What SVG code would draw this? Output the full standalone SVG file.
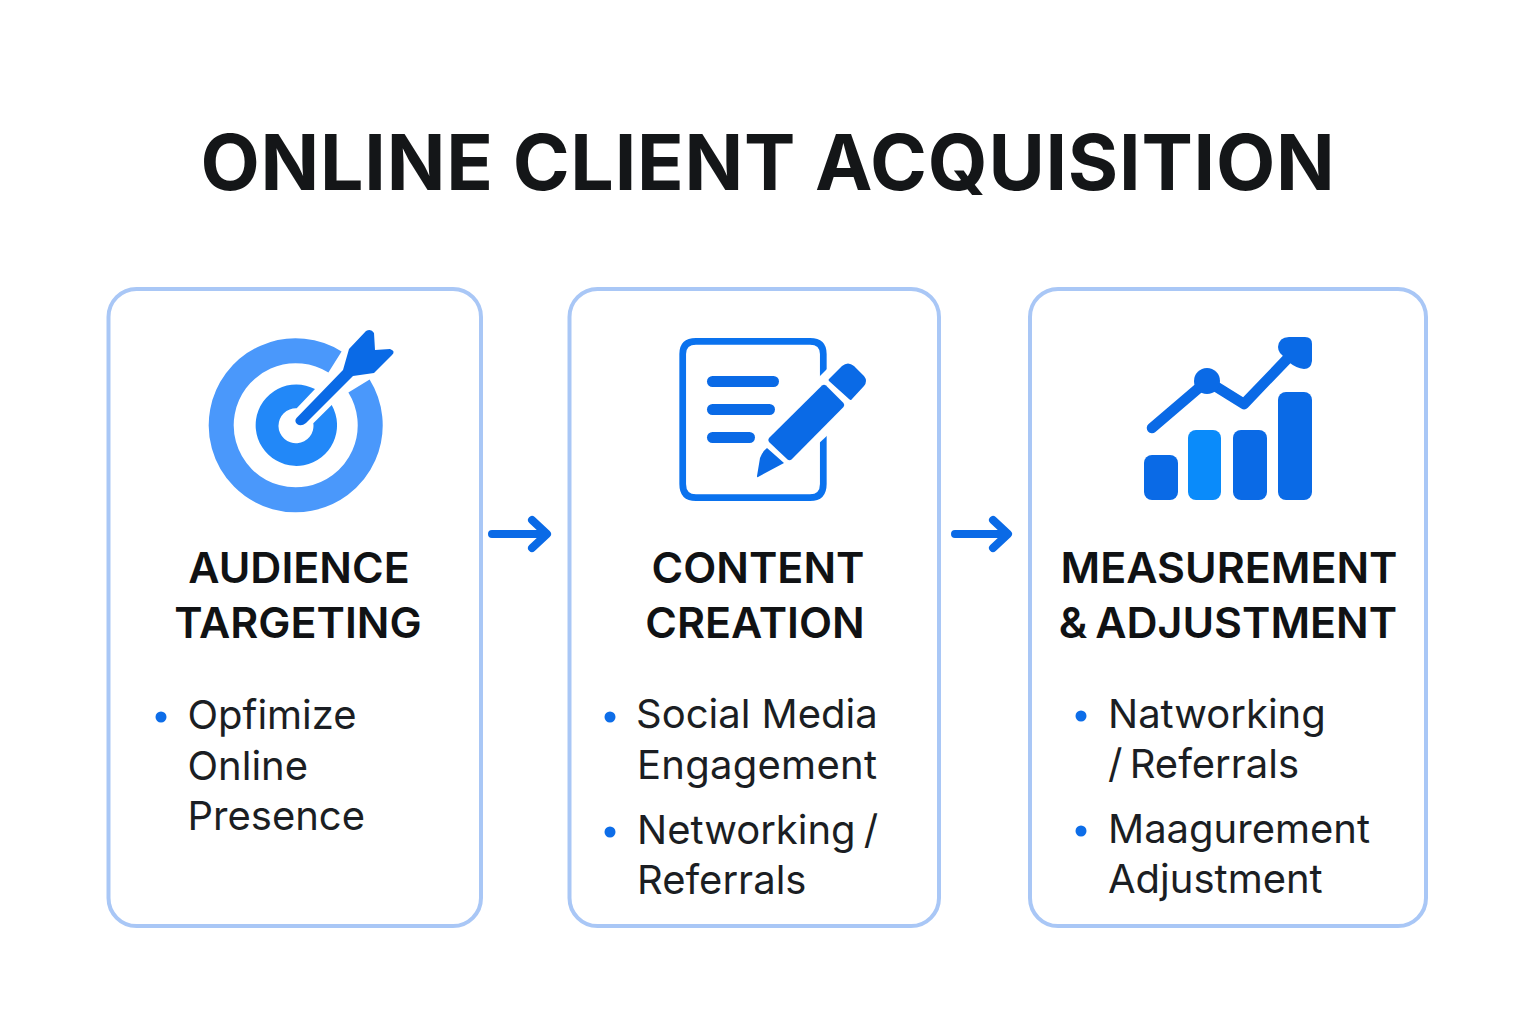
<svg xmlns="http://www.w3.org/2000/svg" width="1536" height="1024" viewBox="0 0 1536 1024">
<style>
text{font-family:"Inter","Liberation Sans",sans-serif}
.title{font-size:77px;font-weight:650;fill:#141618;letter-spacing:.75px}
.head{font-size:43px;font-weight:600;fill:#101214}
.body{font-size:40px;font-weight:400;fill:#1b1e23}
.card{fill:#fff;stroke:#a9c7f6;stroke-width:4}
.dot{fill:#0d6de8}
.ico{fill:#0a6ae6}
.conn{fill:none;stroke:#0a6ae6;stroke-width:8;stroke-linecap:round;stroke-linejoin:round}
</style>
<rect width="1536" height="1024" fill="#fff"/>
<text id="title" class="title" x="768" y="189.500" text-anchor="middle">ONLINE CLIENT ACQUISITION</text>
<g id="connectors">
<path class="conn" d="M492,534H546M532,520L547,534L532,548"/>
<path class="conn" d="M955,534H1007M993,520L1008,534L993,548"/>
</g>
<g id="node-audience">
<rect class="card" x="108.500" y="289" width="372.500" height="637" rx="28"/>
<path d="M335,362A74.500 74.500 0 1 0 359,386" fill="none" stroke="#4a98fb" stroke-width="25"/>
<path d="M315,389A40.700 40.700 0 1 0 331.700,405L313.300,423.300A17.500 17.500 0 1 1 296.700,408.300Z" fill="#2288f8"/>
<path class="ico" d="M296.500,418L343,370L349,349L366,331Q371,328 374,333L375,350L390,349Q396,351 392,355L374,373L353,376L306,423Q301,427 297,424Q294,421 296.500,418Z"/>
<text class="head" x="299" y="583" text-anchor="middle">AUDIENCE</text>
<text class="head" x="298" y="638" text-anchor="middle">TARGETING</text>
<circle class="dot" cx="161" cy="717" r="5.500"/>
<text class="body" x="187.500" y="729">Opfimize</text>
<text class="body" x="187.500" y="780">Online</text>
<text class="body" x="187.500" y="830">Presence</text>
</g>
<g id="node-content">
<rect class="card" x="569.500" y="289" width="369.500" height="637" rx="28"/>
<path d="M823.300,385V354Q823.300,341.300 810,341.300H696Q682.700,341.300 682.700,354V484Q682.700,497.700 696,497.700H810Q823.300,497.700 823.300,484V430" fill="none" stroke="#0a72ee" stroke-width="6.700"/>
<path d="M815,381L831,365V432L815,447Z" fill="#fff"/>
<rect class="ico" x="707" y="376" width="72" height="11" rx="5.500"/>
<rect class="ico" x="707" y="404" width="68" height="11" rx="5.500"/>
<rect class="ico" x="707" y="432" width="48" height="11" rx="5.500"/>
<path class="ico" d="M829,379L842,366Q848,361 854,366L864,376Q868,381 864,386L852,399Q851,401 849,399L829,381Q828,380 829,379Z"/>
<path class="ico" d="M822,385.500Q824,384 826,385.500L843.500,403Q845,405 843.500,407L791.500,459.500Q789.500,461 787.500,459.500L769,442Q767.500,440 769,438Z"/>
<path class="ico" d="M767,448L784,463L758,477Q757,478 757,476L760,458Q762,452 767,448Z"/>
<text class="head" x="758" y="583" text-anchor="middle">CONTENT</text>
<text class="head" x="755" y="638" text-anchor="middle">CREATION</text>
<circle class="dot" cx="610" cy="717" r="5.500"/>
<text class="body" x="636" y="728">Social Media</text>
<text class="body" x="637" y="779" textLength="240">Engagement</text>
<circle class="dot" cx="610" cy="832" r="5.500"/>
<text class="body" x="637" y="844" word-spacing="-3">Networking /</text>
<text class="body" x="637" y="894">Referrals</text>
</g>
<g id="node-measurement">
<rect class="card" x="1030" y="289" width="396" height="637" rx="28"/>
<rect class="ico" x="1144" y="455" width="34" height="45" rx="8"/>
<rect x="1188" y="430" width="33" height="70" rx="8" fill="#0a8bfa"/>
<rect class="ico" x="1233" y="430" width="34" height="70" rx="8"/>
<rect class="ico" x="1278" y="392" width="34" height="108" rx="8"/>
<path d="M1152,428L1207,381L1244,404L1290,356" fill="none" stroke="#0a6ae6" stroke-width="10.500" stroke-linecap="round" stroke-linejoin="round"/>
<circle class="ico" cx="1207" cy="381" r="13"/>
<path class="ico" d="M1278,347Q1279,337 1289,337H1305Q1312,337 1312,344V361Q1311,369 1304,369Q1296,368 1290,363L1280,353Q1278,350 1278,347Z"/>
<text class="head" x="1229" y="583" text-anchor="middle">MEASUREMENT</text>
<text class="head" x="1228" y="638" text-anchor="middle" word-spacing="-3">&amp; ADJUSTMENT</text>
<circle class="dot" cx="1081" cy="716" r="5.500"/>
<text class="body" x="1108" y="728">Natworking</text>
<text class="body" x="1108" y="778" word-spacing="-4">/ Referrals</text>
<circle class="dot" cx="1081" cy="831" r="5.500"/>
<text class="body" x="1108" y="843">Maagurement</text>
<text class="body" x="1108" y="893">Adjustment</text>
</g>
</svg>
